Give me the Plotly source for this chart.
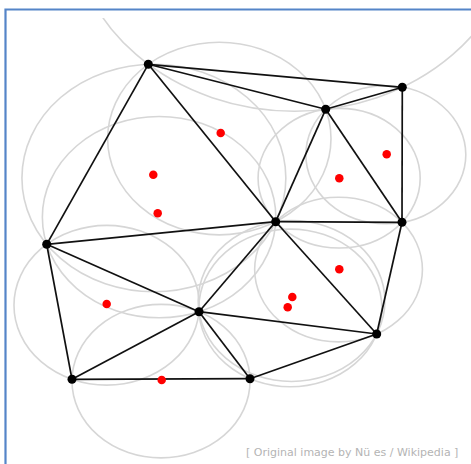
import plotly.graph_objects as go
import numpy as np

# Delaunay vertices (pixel-like coordinates)
vertex_names = ["A", "B", "C", "D", "E", "F", "G", "H", "I", "J"]
vertex_x = [148.3, 402.3, 325.7, 275.7, 402.0, 46.7, 199.0, 376.7, 72.0, 250.0]
vertex_y = [64.3, 87.3, 109.3, 221.7, 222.3, 244.3, 311.7, 334.0, 379.3, 378.7]

# Triangles of the triangulation (by vertex name)
triangles = [
    ("A", "C", "B"), ("A", "F", "D"), ("A", "D", "C"), ("C", "D", "E"),
    ("C", "E", "B"), ("F", "G", "D"), ("F", "I", "G"), ("G", "I", "J"),
    ("G", "J", "H"), ("G", "H", "D"), ("D", "H", "E"),
]

# Red circumcentre markers
center_x = [220.7, 153.3, 157.7, 386.7, 339.3, 339.3, 292.3, 287.7, 106.7, 161.7]
center_y = [133.0, 174.7, 213.3, 154.3, 178.3, 269.3, 297.0, 307.3, 304.0, 380.0]

credit_text = "[ Original image by Nü es / Wikipedia ]"

W, H = 471, 464
STRETCH = 1.16  # the source image is stretched horizontally
pos = {n: (x, y) for n, x, y in zip(vertex_names, vertex_x, vertex_y)}


def circumcircle(p, q, r):
    ax, ay = p
    bx, by = q
    cx, cy = r
    d = 2 * (ax * (by - cy) + bx * (cy - ay) + cx * (ay - by))
    ux = ((ax**2 + ay**2) * (by - cy) + (bx**2 + by**2) * (cy - ay) + (cx**2 + cy**2) * (ay - by)) / d
    uy = ((ax**2 + ay**2) * (cx - bx) + (bx**2 + by**2) * (ax - cx) + (cx**2 + cy**2) * (bx - ax)) / d
    rad = np.hypot(ax - ux, ay - uy)
    return ux, uy, rad


fig = go.Figure()
shapes = []

# circumcircles (computed in unstretched space, drawn stretched)
for t in triangles:
    pts = [(pos[n][0] / STRETCH, pos[n][1]) for n in t]
    ux, uy, rad = circumcircle(*pts)
    shapes.append(dict(type="circle", xref="x", yref="y",
                       x0=(ux - rad) * STRETCH, x1=(ux + rad) * STRETCH,
                       y0=uy - rad, y1=uy + rad,
                       line=dict(color="#d6d6d6", width=1.6), layer="below"))

# white band above the source image area
shapes.append(dict(type="rect", xref="x", yref="y", x0=0, x1=W, y0=0, y1=18,
                   fillcolor="white", line=dict(width=0), layer="below"))

# triangle edges (unique)
edges = set()
for t in triangles:
    for a, b in ((t[0], t[1]), (t[1], t[2]), (t[2], t[0])):
        edges.add(tuple(sorted((a, b))))
ex, ey = [], []
for a, b in sorted(edges):
    ex += [pos[a][0], pos[b][0], None]
    ey += [pos[a][1], pos[b][1], None]

fig.add_trace(go.Scatter(x=ex, y=ey, mode="lines",
                         line=dict(color="#111111", width=1.7),
                         hoverinfo="skip", showlegend=False))
fig.add_trace(go.Scatter(x=vertex_x, y=vertex_y, mode="markers",
                         marker=dict(color="black", size=9),
                         text=vertex_names, showlegend=False))
fig.add_trace(go.Scatter(x=center_x, y=center_y, mode="markers",
                         marker=dict(color="#ff0000", size=8.5),
                         showlegend=False))

# blue frame (left and top edges)
shapes.append(dict(type="path", xref="x", yref="y",
                   path=f"M 5.5 {H+5} L 5.5 9.5 L {W+5} 9.5",
                   line=dict(color="#5585c8", width=2.2), layer="above"))

fig.add_annotation(x=460, y=452, xref="x", yref="y", text=credit_text,
                   showarrow=False, xanchor="right", yanchor="middle",
                   font=dict(family="DejaVu Sans", size=11, color="#b4b4b4"))

fig.update_layout(
    width=W, height=H, margin=dict(l=0, r=0, t=0, b=0),
    paper_bgcolor="white", plot_bgcolor="white",
    shapes=shapes,
    xaxis=dict(range=[0, W], visible=False, showgrid=False, zeroline=False, fixedrange=True),
    yaxis=dict(range=[H, 0], visible=False, showgrid=False, zeroline=False, fixedrange=True),
    showlegend=False,
)

fig.write_html("out.html", config={"displayModeBar": False},
               post_script="document.body.style.margin='0';document.body.style.overflow='hidden';")
